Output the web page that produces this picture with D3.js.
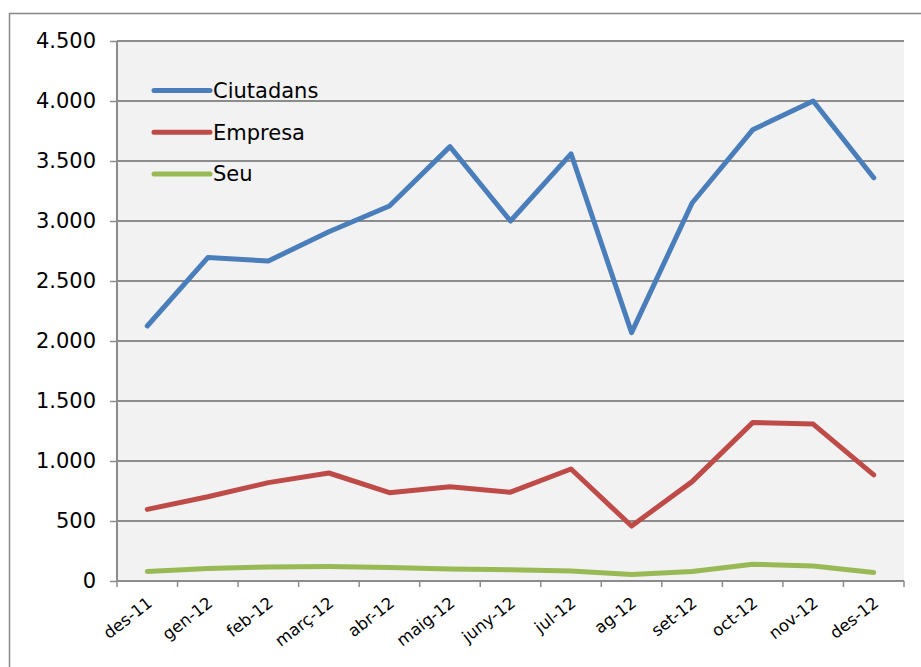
<!DOCTYPE html>
<html>
    <head>
        <title></title>
    </head>
    <body style="margin:0;background:#fff">
        <style>
            svg text {
                font-family: "DejaVu Sans", Verdana, sans-serif;
                fill: #000;
            }
        </style>
        <script src="https://cdnjs.cloudflare.com/ajax/libs/d3/7.8.5/d3.min.js" charset="utf-8"></script>
        <script>

        var w = 921;
        var h = 667;

        var months = ["des-11", "gen-12", "feb-12", "març-12", "abr-12", "maig-12", "juny-12",
                      "jul-12", "ag-12", "set-12", "oct-12", "nov-12", "des-12"];
        var ciutadans = [2125, 2695, 2667, 2910, 3125, 3620, 3000, 3560, 2070, 3150, 3760, 4000, 3360];
        var empresa = [597, 702, 820, 900, 736, 786, 740, 933, 458, 828, 1320, 1308, 884];
        var seu = [80, 105, 117, 120, 112, 100, 94, 84, 54, 80, 140, 125, 70];
        var seriesNames = ["Ciutadans", "Empresa", "Seu"];
        var seriesColors = ["#4a7ebb", "#be4b48", "#98b954"];
        var yTicks = [0, 500, 1000, 1500, 2000, 2500, 3000, 3500, 4000, 4500];

        var allSeries = [ciutadans, empresa, seu];

        var plotLeft = 117, plotRight = 904, plotTop = 41, plotBottom = 581;

        var xScale = d3.scaleBand()
                       .domain(months)
                       .range([plotLeft, plotRight]);

        var yScale = d3.scaleLinear()
                       .domain([0, 4500])
                       .range([plotBottom, plotTop]);

        var fmt = function(v) {
            return d3.format(",")(v).replace(/,/g, ".");
        };

        var svg = d3.select("body")
                    .append("svg")
                    .attr("width", w)
                    .attr("height", h)
                    .style("display", "block");

        // outer chart frame (runs off the page on right and bottom)
        svg.append("rect")
            .attr("x", 9.5)
            .attr("y", 13.5)
            .attr("width", 1000)
            .attr("height", 1000)
            .attr("fill", "#fff")
            .attr("stroke", "#878787")
            .attr("stroke-width", 1.5);

        // plot background
        svg.append("rect")
            .attr("x", plotLeft)
            .attr("y", plotTop)
            .attr("width", plotRight - plotLeft)
            .attr("height", plotBottom - plotTop)
            .attr("fill", "#f2f2f2");

        // y axis labels + ticks
        var yAxis = d3.axisLeft(yScale)
                      .tickValues(yTicks)
                      .tickFormat(fmt)
                      .tickSize(7)
                      .tickPadding(14);

        var gy = svg.append("g")
            .attr("transform", "translate(" + plotLeft + ",0)")
            .call(yAxis);
        gy.selectAll("text").attr("font-size", "21px").attr("font-family", null);
        gy.selectAll("line").attr("stroke", "#8c8c8c").attr("stroke-width", 1.5);
        gy.select(".domain").remove();

        // gridlines
        svg.append("g")
            .selectAll("line")
            .data(yTicks)
            .enter()
            .append("line")
            .attr("x1", plotLeft)
            .attr("x2", plotRight)
            .attr("y1", function(d) { return yScale(d); })
            .attr("y2", function(d) { return yScale(d); })
            .attr("stroke", "#8c8c8c")
            .attr("stroke-width", 2);

        svg.append("line")
            .attr("x1", plotLeft)
            .attr("x2", plotLeft)
            .attr("y1", plotTop)
            .attr("y2", plotBottom)
            .attr("stroke", "#8c8c8c")
            .attr("stroke-width", 2);

        // x axis ticks at band edges
        var edges = months.map(function(m) { return xScale(m); });
        edges.push(plotRight);
        svg.append("g")
            .selectAll("line")
            .data(edges)
            .enter()
            .append("line")
            .attr("x1", function(d) { return d; })
            .attr("x2", function(d) { return d; })
            .attr("y1", plotBottom)
            .attr("y2", plotBottom + 6)
            .attr("stroke", "#8c8c8c")
            .attr("stroke-width", 1.5);

        svg.append("g")
            .selectAll("text")
            .data(months)
            .enter()
            .append("text")
            .text(function(d) { return d; })
            .attr("font-size", "16.5px")
            .attr("text-anchor", "end")
            .attr("transform", function(d) {
                var x = xScale(d) + xScale.bandwidth() / 2 + 6;
                return "translate(" + x + "," + (plotBottom + 24) + ") rotate(-38)";
            });

        // lines
        var line = d3.line()
                     .x(function(d, i) { return xScale(months[i]) + xScale.bandwidth() / 2; })
                     .y(function(d) { return yScale(d); });

        svg.append("g")
            .selectAll("path")
            .data(allSeries)
            .enter()
            .append("path")
            .attr("d", line)
            .attr("fill", "none")
            .attr("stroke", function(d, i) { return seriesColors[i]; })
            .attr("stroke-width", 5)
            .attr("stroke-linecap", "round")
            .attr("stroke-linejoin", "round");

        // legend
        var legend = svg.append("g")
            .selectAll("g")
            .data(seriesNames)
            .enter()
            .append("g")
            .attr("transform", function(d, i) { return "translate(154," + (90.5 + i * 41.7) + ")"; });

        legend.append("line")
            .attr("x1", 0)
            .attr("x2", 56)
            .attr("stroke", function(d, i) { return seriesColors[i]; })
            .attr("stroke-width", 5)
            .attr("stroke-linecap", "round");

        legend.append("text")
            .attr("x", 59)
            .attr("dy", "0.35em")
            .attr("font-size", "21px")
            .text(function(d) { return d; });

        </script>
    </body>
</html>
